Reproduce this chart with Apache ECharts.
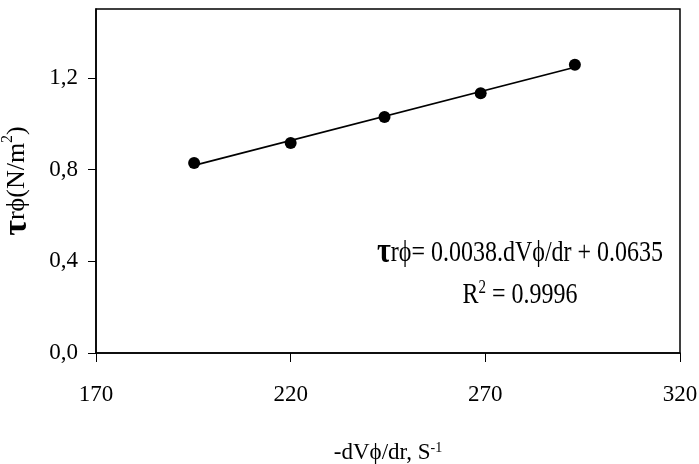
<!DOCTYPE html>
<html>
<head>
<meta charset="utf-8">
<script src="https://cdn.jsdelivr.net/npm/echarts@6/dist/echarts.min.js"></script>
<style>html,body{margin:0;padding:0;background:#fff}#c{width:699px;height:464px}</style>
</head>
<body>
<div id="c"></div>
<script>
var xValues = [195.2, 220.0, 244.1, 268.8, 293.0];
var yValues = [0.829, 0.916, 1.029, 1.133, 1.257];
var trendX = [195.2, 293.0];
var trendY = [0.818, 1.246];
var xTicks = [170, 220, 270, 320];
var yTicks = [0, 0.4, 0.8, 1.2];
var equationText = '= 0.0038.dVϕ/dr + 0.0635';
var r2Text = '= 0.9996';

var FONT = "'Liberation Serif','Times New Roman',serif";
var chart = echarts.init(document.getElementById('c'));
var pts = xValues.map(function (x, i) { return [x, yValues[i]]; });
var trend = trendX.map(function (x, i) { return [x, trendY[i]]; });

chart.setOption({
  animation: false,
  backgroundColor: '#fff',
  grid: { left: 96, right: 19, top: 9, bottom: 111, show: true, borderColor: '#000', borderWidth: 1.5, outerBoundsMode: 'none', containLabel: false },
  xAxis: {
    type: 'value', min: 170, max: 320, interval: 50,
    axisLine: { show: true, lineStyle: { color: '#000', width: 1.5 } },
    axisTick: { show: true, inside: false, length: 9, lineStyle: { color: '#000', width: 1 } },
    axisLabel: { margin: 30, color: '#000', fontFamily: FONT, fontSize: 23 },
    splitLine: { show: false },
    name: '{a|-dVϕ/dr, S}{s|-1}',
    nameLocation: 'middle', nameGap: 88,
    nameTextStyle: {
      color: '#000', fontFamily: FONT,
      rich: {
        a: { fontSize: 23, fontFamily: FONT, color: '#000' },
        s: { fontSize: 14, fontFamily: FONT, color: '#000', verticalAlign: 'top', padding: [0, 0, 10, 0] }
      }
    }
  },
  yAxis: {
    type: 'value', min: 0, max: 1.5,
    axisLine: { show: true, lineStyle: { color: '#000', width: 1.5 } },
    axisTick: { show: true, inside: false, length: 8, customValues: yTicks, lineStyle: { color: '#000', width: 1 } },
    axisLabel: {
      margin: 18, color: '#000', fontFamily: FONT, fontSize: 23, customValues: yTicks,
      formatter: function (v) { return v.toFixed(1).replace('.', ','); }
    },
    splitLine: { show: false },
    name: '{t|τ}{a|rϕ(N/m}{s|2}{a|)}',
    nameLocation: 'middle', nameGap: 62, nameRotate: 90,
    nameTextStyle: {
      color: '#000', fontFamily: FONT,
      rich: {
        t: { fontSize: 34, fontWeight: 'bold', fontFamily: FONT, color: '#000' },
        a: { fontSize: 26, fontFamily: FONT, color: '#000' },
        s: { fontSize: 16, fontFamily: FONT, color: '#000', verticalAlign: 'top', padding: [0, 0, 12, 0] }
      }
    }
  },
  series: [
    {
      type: 'line', data: trend, symbol: 'none',
      lineStyle: { color: '#000', width: 1.8 }, z: 2
    },
    {
      type: 'scatter', data: pts, symbol: 'circle', symbolSize: 12,
      itemStyle: { color: '#000', opacity: 1 }, z: 3
    }
  ],
  graphic: [
    {
      type: 'text', z: 10,
      x: 520, y: 253, scaleY: 1.2,
      style: {
        x: 0, y: 0, align: 'center', verticalAlign: 'middle',
        text: '{t|τ}{a|rϕ' + equationText + '}',
        rich: {
          t: { fontSize: 30, fontWeight: 'bold', fontFamily: FONT, fill: '#000' },
          a: { fontSize: 24, fontFamily: FONT, fill: '#000' }
        }
      }
    },
    {
      type: 'text', z: 10,
      x: 520, y: 295, scaleY: 1.2,
      style: {
        x: 0, y: 0, align: 'center', verticalAlign: 'middle',
        text: '{a|R}{s|2}{a| ' + r2Text + '}',
        rich: {
          a: { fontSize: 24, fontFamily: FONT, fill: '#000' },
          s: { fontSize: 15, fontFamily: FONT, fill: '#000', verticalAlign: 'top', padding: [0, 0, 12, 0] }
        }
      }
    }
  ]
});
</script>
</body>
</html>
